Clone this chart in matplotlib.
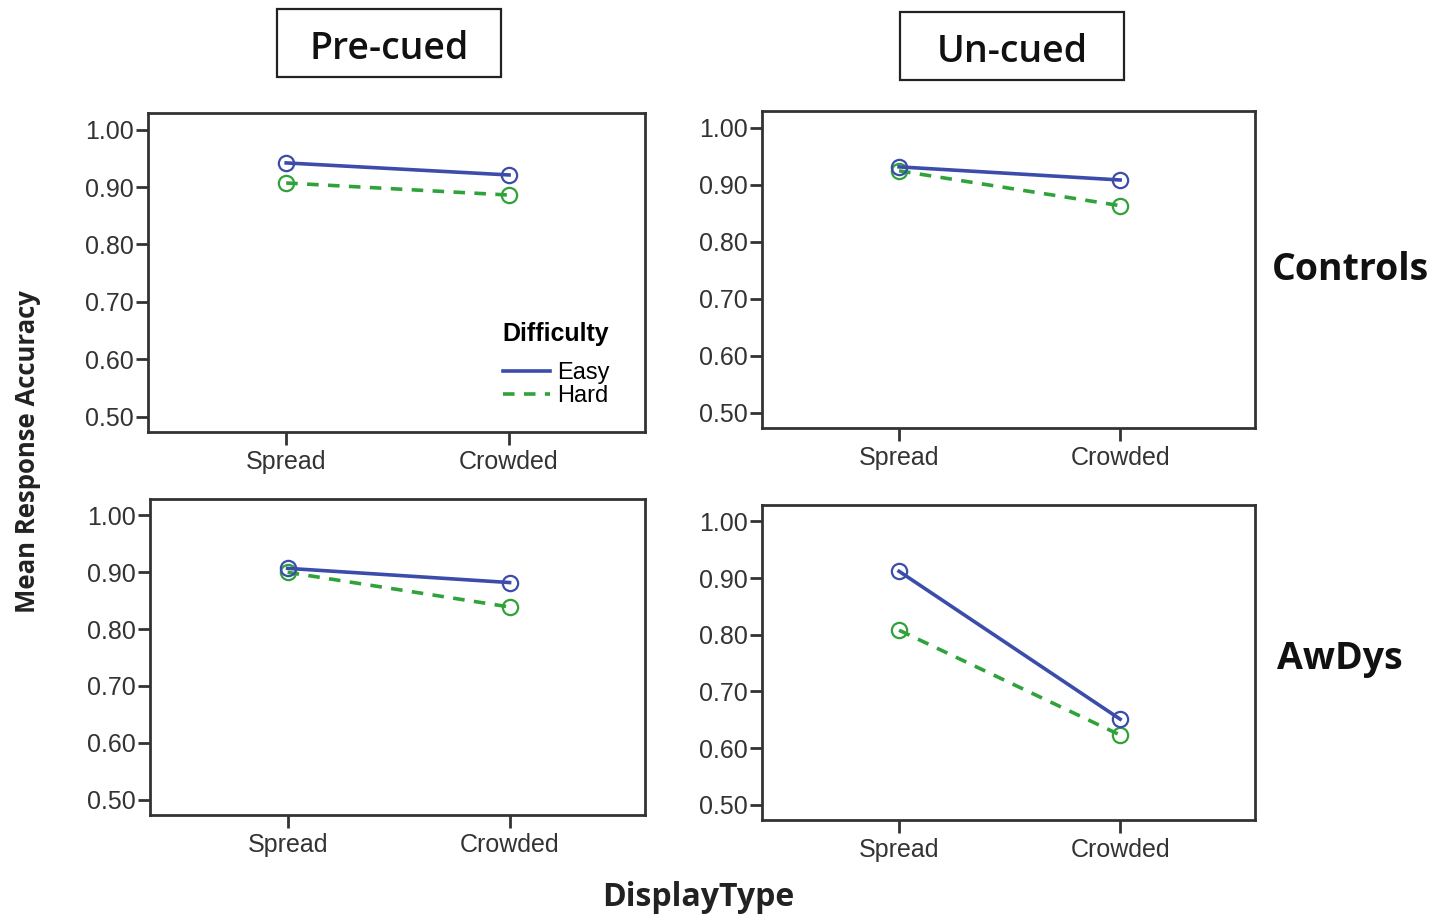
import matplotlib
matplotlib.use("Agg")
import matplotlib.pyplot as plt
from matplotlib.patches import Rectangle

# Display conditions on the x axis
display_types = ["Spread", "Crowded"]
y_ticks = [0.50, 0.60, 0.70, 0.80, 0.90, 1.00]

# Mean response accuracy per panel (row group x cue condition)
controls_precued_easy = [0.942, 0.921]
controls_precued_hard = [0.907, 0.886]
controls_uncued_easy = [0.931, 0.908]
controls_uncued_hard = [0.924, 0.863]
awdys_precued_easy = [0.907, 0.882]
awdys_precued_hard = [0.900, 0.839]
awdys_uncued_easy = [0.912, 0.651]
awdys_uncued_hard = [0.808, 0.623]

col_titles = ["Pre-cued", "Un-cued"]
row_titles = ["Controls", "AwDys"]

EASY_COLOR = "#3b4cab"
HARD_COLOR = "#2fa33a"
TICK_FONT = "Liberation Sans"
HEAD_FONT = "Open Sans"

W, H = 1437, 918
fig = plt.figure(figsize=(W / 100, H / 100), dpi=100)


def frac_box(x0, y0, x1, y1):
    """Pixel box (top-left origin) to figure-fraction rect."""
    return [x0 / W, 1 - y1 / H, (x1 - x0) / W, (y1 - y0) / H]


panel_boxes = [
    [(148, 113, 645, 432), (762, 111, 1255, 428)],
    [(150, 499, 645, 815), (762, 505, 1255, 820)],
]
panel_data = [
    [(controls_precued_easy, controls_precued_hard),
     (controls_uncued_easy, controls_uncued_hard)],
    [(awdys_precued_easy, awdys_precued_hard),
     (awdys_uncued_easy, awdys_uncued_hard)],
]

x = list(range(len(display_types)))
axes = []
for r in range(2):
    for c in range(2):
        ax = fig.add_axes(frac_box(*panel_boxes[r][c]))
        easy, hard = panel_data[r][c]
        ax.plot(x, easy, color=EASY_COLOR, lw=2.6, ls="-",
                marker="o", ms=11, mfc="none", mec=EASY_COLOR, mew=1.6,
                label="Easy", zorder=3)
        ax.plot(x, hard, color=HARD_COLOR, lw=2.6, ls=(0, (3.2, 2.6)),
                marker="o", ms=11, mfc="none", mec=HARD_COLOR, mew=1.6,
                label="Hard", zorder=2)
        ax.set_xlim(-0.62, 1.61)
        ax.set_ylim(0.473, 1.029)
        ax.set_xticks(x)
        ax.set_xticklabels(display_types, fontfamily=TICK_FONT,
                           fontsize=18, color="#333333")
        ax.set_yticks(y_ticks)
        ax.set_yticklabels([f"{v:.2f}" for v in y_ticks],
                           fontfamily=TICK_FONT, fontsize=18,
                           color="#333333")
        ax.tick_params(axis="both", direction="out", length=9, width=2,
                       color="#333333", pad=1)
        ax.tick_params(axis="x", pad=4)
        for s in ax.spines.values():
            s.set_linewidth(2)
            s.set_color("#333333")
        axes.append(ax)

# Legend inside the first panel
leg = axes[0].legend(
    loc="upper left", bbox_to_anchor=(486 / W, 1 - 305 / H),
    bbox_transform=fig.transFigure, frameon=False, title="Difficulty",
    alignment="left", handlelength=2.0, handletextpad=0.3,
    labelspacing=0.05, borderpad=0.2,
    prop={"family": TICK_FONT, "size": 17},
    title_fontproperties={"family": TICK_FONT, "size": 18, "weight": "bold"},
)
leg._legend_box.sep = 12
for line in leg.get_lines():
    line.set_marker("")

# Column headers in boxes
header_boxes = [(277, 9, 501, 77), (900, 12, 1124, 80)]
for title, (x0, y0, x1, y1) in zip(col_titles, header_boxes):
    rect = Rectangle((x0 / W, 1 - y1 / H), (x1 - x0) / W, (y1 - y0) / H,
                     transform=fig.transFigure, fill=False,
                     edgecolor="#222222", lw=1.6)
    fig.add_artist(rect)
    fig.text((x0 + x1) / 2 / W, 1 - ((y0 + y1) / 2 + 6) / H, title,
             ha="center", va="center", fontsize=27, fontfamily=HEAD_FONT,
             fontweight="semibold", color="#111111")

# Row labels
fig.text(1350 / W, 1 - 270 / H, row_titles[0], ha="center", va="center",
         fontsize=27, fontfamily=HEAD_FONT, fontweight="bold",
         color="#111111")
fig.text(1340 / W, 1 - 659 / H, row_titles[1], ha="center", va="center",
         fontsize=27, fontfamily=HEAD_FONT, fontweight="bold",
         color="#111111")

# Shared axis labels
fig.text(28 / W, 1 - 452 / H, "Mean Response Accuracy", rotation=90,
         ha="center", va="center", fontsize=18.5, fontfamily=HEAD_FONT,
         fontweight="bold", color="#222222")
fig.text(698 / W, 1 - 898 / H, "DisplayType", ha="center", va="center",
         fontsize=23, fontfamily=HEAD_FONT, fontweight="bold",
         color="#222222")

fig.savefig("out.png", dpi=100, facecolor="white")
